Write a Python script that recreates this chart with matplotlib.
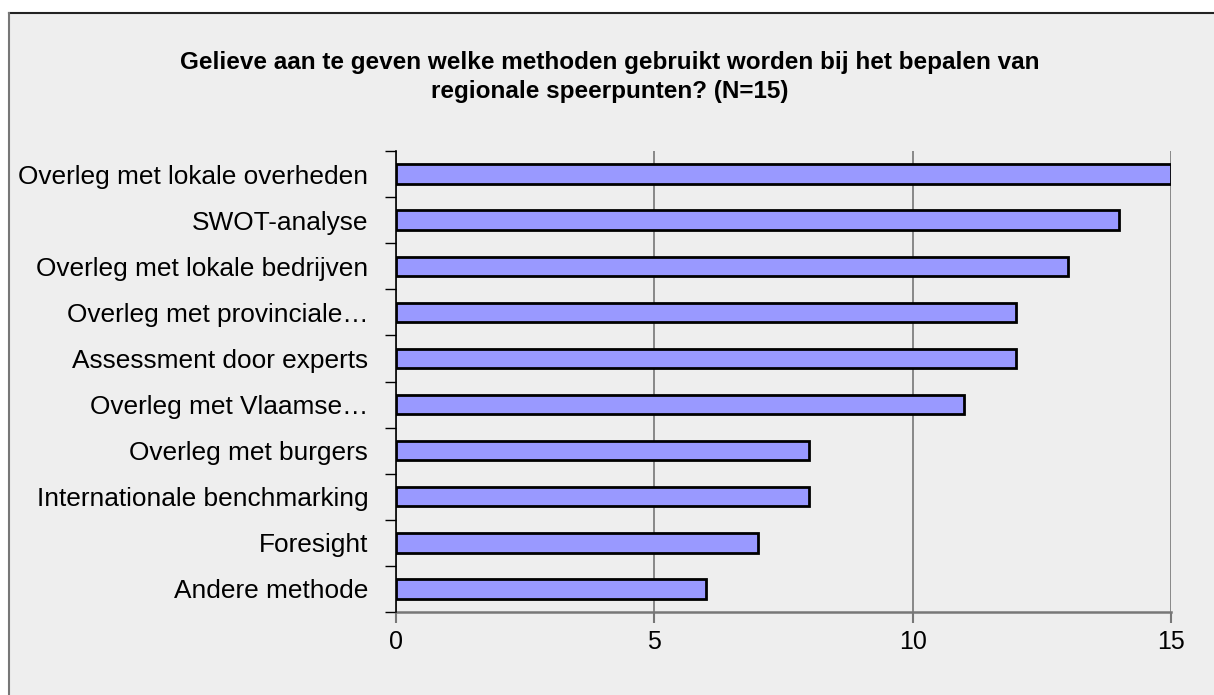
import matplotlib.pyplot as plt
from matplotlib.patches import Rectangle

labels = ["Overleg met lokale overheden", "SWOT-analyse", "Overleg met lokale bedrijven",
          "Overleg met provinciale…", "Assessment door experts", "Overleg met Vlaamse…",
          "Overleg met burgers", "Internationale benchmarking", "Foresight", "Andere methode"]
values = [15, 14, 13, 12, 12, 11, 8, 8, 7, 6]
xticks = [0, 5, 10, 15]
title = "Gelieve aan te geven welke methoden gebruikt worden bij het bepalen van\nregionale speerpunten? (N=15)"

plt.rcParams['font.family'] = ['Liberation Sans', 'DejaVu Sans']

W, H = 1214, 695
fig = plt.figure(figsize=(W / 100, H / 100), dpi=100)
fig.patch.set_facecolor("white")

# grey chart panel with border (runs off right/bottom edge)
bg = Rectangle((9 / W, 0), 1, 1 - 13 / H, transform=fig.transFigure,
               facecolor="#eeeeee", edgecolor="none", zorder=-10)
fig.add_artist(bg)
fig.add_artist(plt.Line2D([9 / W, 1], [1 - 13 / H, 1 - 13 / H], color="#222222", lw=1.5, zorder=-5))
fig.add_artist(plt.Line2D([9 / W, 9 / W], [0, 1 - 13 / H], color="#777777", lw=1.5, zorder=-5))

ax = fig.add_axes([396 / W, 1 - 612 / H, (1171 - 396) / W, (612 - 151) / H], zorder=1)
ax.set_facecolor("none")

y = list(range(len(labels)))
ax.barh(y, values, height=0.42, color="#9999ff", edgecolor="black", linewidth=2, zorder=3)
ax.set_ylim(len(labels) - 0.5, -0.5)
ax.set_xlim(0, 15)

ax.set_yticks(y)
ax.set_yticklabels(labels, fontsize=18.9)
ax.set_yticks([i - 0.5 for i in range(len(labels) + 1)], minor=True)
ax.tick_params(axis="y", which="major", length=0, pad=20)
ax.tick_params(axis="y", which="minor", length=8, color="black", width=1)

ax.set_xticks(xticks)
ax.set_xticklabels([str(v) for v in xticks], fontsize=18)
ax.tick_params(axis="x", length=8, color="#777777", width=1.5, pad=5)

ax.grid(axis="x", color="#777777", linewidth=1.2, zorder=1)
for s in ["top", "right"]:
    ax.spines[s].set_visible(False)
ax.spines["left"].set_color("black")
ax.spines["left"].set_linewidth(1.2)
ax.spines["left"].set_zorder(4)
ax.spines["bottom"].set_color("#777777")
ax.spines["bottom"].set_linewidth(1.8)

fig.text(610 / W, 1 - 77 / H, title, ha="center", va="center", fontsize=17.5,
         fontweight="bold", linespacing=1.35)

fig.savefig("out.png", dpi=100, facecolor=fig.get_facecolor())
